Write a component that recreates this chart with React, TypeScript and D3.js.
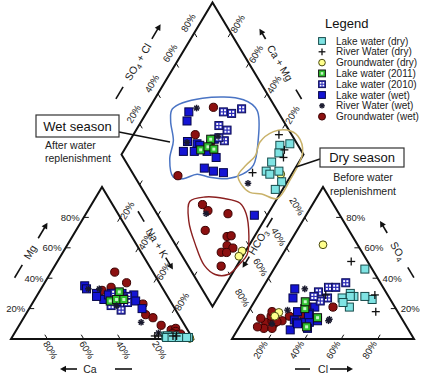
import React from "react";
import * as d3 from "d3";

// Each sample: [Mg %, Na+K %, Cl %, SO4 %]  (Ca = 100 - Mg - Na+K ; HCO3 = 100 - Cl - SO4)
const lakeDry = [
  [2, 89, 50, 46], [2, 84, 64, 26], [1, 86, 59, 28], [2, 85, 50, 30], [1, 85, 47, 27],
  [1, 88, 54, 21], [1, 92, 53, 28], [1, 97, 51, 28], [1, 96, 49, 24],
];
const riverDry = [[2, 80, 64, 29], [2, 88, 40, 51], [2, 78, 37, 29], [2, 90, 70, 18]];
const gwDry = [[1, 94, 19, 62], [0.5, 98, 17, 17.5], [0.5, 98, 16, 15]];
const lake2011 = [[31, 44, 40, 14], [25, 42, 37, 8], [26, 45, 30, 20], [26, 49, 28, 24.5]];
const lake2010 = [
  [30, 42, 36, 34], [26, 47, 40, 34], [19, 51, 44, 37], [22, 44, 32, 31],
  [28, 50, 39, 27], [24, 52, 36, 25], [27, 48, 31, 28],
];
const lakeWet = [
  [35, 23, 18, 33], [33, 25, 20, 27], [30, 32, 28, 12.5], [26, 38, 27, 18], [30, 40, 35, 11],
  [28, 33, 29, 6], [30, 46, 37, 11], [24.5, 46, 35, 21], [29, 53, 34, 17], [28, 50, 30, 11],
  [25, 56, 38, 7], [20, 62, 34, 16], [1, 93, 41, 12], [29, 39, 31, 10],
];
const riverWet = [[33, 26, 23.5, 33], [33, 32, 21, 19], [22, 47, 47, 12], [4, 79, 47, 13], [11, 66, 17, 10]];
const gwWet = [
  [44, 35, 45, 21], [32, 34, 31, 16], [37, 45, 32, 21], [34, 38, 13, 11], [23, 61, 16, 12],
  [16, 66, 14, 15], [9, 78, 24, 15], [14, 71, 14, 7], [6, 85, 13, 18], [7, 87, 21.5, 12],
  [5, 88, 18, 10], [2.6, 92, 19, 11.4], [3.5, 87, 9, 13.6], [3, 90, 18.5, 7], [3.3, 91.5, 10, 8],
];

// group outlines in the diamond: [SO4+Cl %, Na+K %]
const wetOutline = [[43, 13], [63, 26], [85, 49], [89, 60], [79, 71], [69, 76], [60, 73], [50, 66], [41, 56], [35, 48], [26, 42], [21, 36], [25, 28], [33, 24], [38, 16]];
const dryOutline = [[80, 72], [91, 76], [99, 83], [103, 91], [100, 99], [84, 101], [71, 100], [64, 90], [58, 83], [56, 76], [57, 71], [65, 72], [73, 74]];
const gwOutline = [[22, 53], [32, 60], [42, 71], [49, 81], [49, 88], [43, 97], [36, 102], [29, 101], [19, 98], [12, 91], [9, 82], [11, 70], [15, 59]];

const tickValues = [20, 40, 60, 80];
const tickLabels = ["20%", "40%", "60%", "80%"];
const legendLabels = [
  "Lake water (dry)", "River Water (dry)", "Groundwater (dry)", "Lake water (2011)",
  "Lake water (2010)", "Lake water (wet)", "River Water (wet)", "Groundwater (wet)",
];
const legendKinds = ["lakeDry", "riverDry", "gwDry", "lake2011", "lake2010", "lakeWet", "riverWet", "gwWet"];

const FONT = "Liberation Sans, Arial, sans-serif";
const S = 182, TH = 152, BASE = 339, X0L = 11, GAP = 39;
const X0R = X0L + S + GAP;
const sx = d3.scaleLinear().domain([0, 100]).range([0, S]);
const sy = d3.scaleLinear().domain([0, 100]).range([0, TH]);
const Bx = X0L + S + GAP / 2;
const By = BASE - (GAP / 2) * TH / (S / 2);
const Lx = Bx - S / 2, Ly = By - TH;
const ANG = (Math.atan2(TH, S / 2) * 180) / Math.PI;
const NRM = Math.hypot(S / 2, TH);
const UR = [S / 2 / NRM, -TH / NRM]; // up-right unit
const UL = [-S / 2 / NRM, -TH / NRM];
const DR = [S / 2 / NRM, TH / NRM];
const DL = [-S / 2 / NRM, TH / NRM];

const cation = (mg: number, na: number) => [X0L + sx(na) + sx(mg) / 2, BASE - sy(mg)];
const anion = (cl: number, so4: number) => [X0R + sx(cl) + sx(so4) / 2, BASE - sy(so4)];
const diamond = (scl: number, na: number) => [Lx + sx(scl) / 2 + sx(na) / 2, Ly - sy(scl) + sy(na)];

function Marker({ kind, x, y, k = 1 }: { kind: string; x: number; y: number; k?: number }) {
  const h = 4 * k;
  switch (kind) {
    case "lakeDry":
      return <rect x={x - h} y={y - h} width={2 * h} height={2 * h} fill="#7fe3e3" stroke="#164a4a" strokeWidth={1} />;
    case "riverDry":
      return (
        <g stroke="#111" strokeWidth={1.3}>
          <line x1={x - h} x2={x + h} y1={y} y2={y} />
          <line x1={x} x2={x} y1={y - h} y2={y + h} />
        </g>
      );
    case "gwDry":
      return <circle cx={x} cy={y} r={3.9 * k} fill="#ffff8c" stroke="#4a4a10" strokeWidth={1} />;
    case "lake2011":
      return (
        <g>
          <rect x={x - h} y={y - h} width={2 * h} height={2 * h} fill="#2fbf2f" stroke="#111" strokeWidth={1} />
          <rect x={x - 1.5 * k} y={y - 1.5 * k} width={3 * k} height={3 * k} fill="#c8f5c8" />
        </g>
      );
    case "lake2010":
      return (
        <g>
          <rect x={x - h} y={y - h} width={2 * h} height={2 * h} fill="#2b2bb8" stroke="#10105a" strokeWidth={1} />
          {[[-2.6, -2.6], [0.6, -2.6], [-2.6, 0.6], [0.6, 0.6]].map(([a, b], i) => (
            <rect key={i} x={x + a * k} y={y + b * k} width={2 * k} height={2 * k} fill="#fff" />
          ))}
        </g>
      );
    case "lakeWet":
      return <rect x={x - h} y={y - h} width={2 * h} height={2 * h} fill="#1414d4" stroke="#06064a" strokeWidth={1} />;
    case "riverWet":
      return (
        <g stroke="#1a1a2e" strokeWidth={1.5}>
          {[0, 45, 90, 135].map((a) => {
            const r = (a * Math.PI) / 180;
            const d = 3.3 * k;
            return <line key={a} x1={x - d * Math.cos(r)} y1={y - d * Math.sin(r)} x2={x + d * Math.cos(r)} y2={y + d * Math.sin(r)} />;
          })}
        </g>
      );
    case "gwWet":
      return <circle cx={x} cy={y} r={4.1 * k} fill="#8c1010" stroke="#3a0000" strokeWidth={1} />;
  }
  return null;
}

function Title({ x, y, angle, children, arrow, line }: any) {
  const [a0, a1] = arrow;
  const sg = a1 > a0 ? 1 : -1;
  return (
    <g transform={`translate(${x},${y}) rotate(${angle})`}>
      <text x={0} y={0} dy="0.35em" textAnchor="middle" fontSize={10.5} fill="#222" fontFamily={FONT}>{children}</text>
      <line x1={line[0]} x2={line[1]} y1={0} y2={0} stroke="#111" strokeWidth={1.6} />
      <line x1={a0} x2={a1 - sg * 4} y1={0} y2={0} stroke="#111" strokeWidth={1.6} />
      <path d={`M${a1},0L${a1 - sg * 6},-3.2L${a1 - sg * 6},3.2Z`} fill="#111" />
    </g>
  );
}

const sub = (base: string, s: string, rest = "") => (
  <>
    <tspan>{base}</tspan>
    <tspan fontSize={7.5} dy={2.5}>{s}</tspan>
    <tspan dy={-2.5}>{rest}</tspan>
  </>
);

export default function App() {
  const series: [string, number[][]][] = [
    ["gwWet", gwWet], ["lakeWet", lakeWet], ["lake2010", lake2010], ["lake2011", lake2011],
    ["riverWet", riverWet], ["gwDry", gwDry], ["lakeDry", lakeDry], ["riverDry", riverDry],
  ];
  const outline = d3.line().curve(d3.curveCatmullRomClosed.alpha(0.5));
  const toD = (pts: number[][]) => outline(pts.map(([s, n]) => diamond(s, n) as [number, number])) || "";

  const tri = (pts: number[][]) => pts.map((p) => p.join(",")).join(" ");
  const TL = 5;
  const ticks: { p: number[]; d: number[] }[] = [];
  tickValues.forEach((t) => {
    ticks.push({ p: cation(0, 100 - t), d: UL });
    ticks.push({ p: cation(t, 0), d: [1, 0] });
    ticks.push({ p: cation(100 - t, t), d: DL });
    ticks.push({ p: anion(t, 0), d: UR });
    ticks.push({ p: anion(100 - t, t), d: [-1, 0] });
    ticks.push({ p: anion(0, 100 - t), d: DR });
    ticks.push({ p: diamond(t, 0), d: DR });
    ticks.push({ p: diamond(100, 100 - t), d: DL });
    ticks.push({ p: diamond(0, t), d: UR });
    ticks.push({ p: diamond(t, 100), d: UL });
  });
  const lab = { fontSize: 9.5, fill: "#222", fontFamily: FONT } as any;

  return (
    <svg width={421} height={383} style={{ position: "absolute", left: 0, top: 0, background: "#fff" }}>
      {/* frames */}
      <g fill="none" stroke="#111" strokeWidth={2} strokeLinejoin="miter">
        <polygon points={tri([cation(0, 0), cation(0, 100), cation(100, 0)])} />
        <polygon points={tri([anion(0, 0), anion(100, 0), anion(0, 100)])} />
        <polygon points={tri([diamond(0, 0), diamond(100, 0), diamond(100, 100), diamond(0, 100)])} />
      </g>
      <g stroke="#111" strokeWidth={1}>
        {ticks.map((t, i) => (
          <line key={i} x1={t.p[0]} y1={t.p[1]} x2={t.p[0] + t.d[0] * TL} y2={t.p[1] + t.d[1] * TL} />
        ))}
      </g>
      {/* tick labels */}
      {tickValues.map((t, i) => {
        const ca = cation(0, 100 - t);
        const mg = cation(t, 0);
        const na = cation(100 - t, t);
        const cl = anion(t, 0);
        const so = anion(100 - t, t);
        const hc = anion(0, 100 - t);
        const dl = diamond(t, 0);
        const dr = diamond(100, 100 - t);
        return (
          <g key={t} {...lab}>
            <text transform={`translate(${ca[0] + 3},${BASE + 11}) rotate(${ANG})`} textAnchor="middle" dy="0.35em">{tickLabels[i]}</text>
            <text x={mg[0] - 4} y={mg[1] + 3.5} textAnchor="end">{tickLabels[i]}</text>
            <text transform={`translate(${na[0] + 7},${na[1] - 7}) rotate(${-ANG})`} textAnchor="middle" dy="0.35em">{tickLabels[i]}</text>
            <text transform={`translate(${cl[0] - 8},${BASE + 11}) rotate(${-ANG})`} textAnchor="middle" dy="0.35em">{tickLabels[i]}</text>
            <text x={so[0] + 5} y={so[1] + 3.5} textAnchor="start">{tickLabels[i]}</text>
            <text transform={`translate(${hc[0] - 8},${hc[1] - 11}) rotate(${ANG})`} textAnchor="middle" dy="0.35em">{tickLabels[i]}</text>
            <text transform={`translate(${dl[0] - 6},${dl[1] - 10}) rotate(${-ANG})`} textAnchor="middle" dy="0.35em">{tickLabels[i]}</text>
            <text transform={`translate(${dr[0] + 7},${dr[1] - 9}) rotate(${-ANG})`} textAnchor="middle" dy="0.35em">{tickLabels[i]}</text>
          </g>
        );
      })}
      {/* axis titles */}
      <Title x={90} y={369} angle={0} arrow={[-13, -30]} line={[25, 42]}>Ca</Title>
      <Title x={323} y={369} angle={0} arrow={[7, 30]} line={[-28, -13]}>Cl</Title>
      <Title x={30} y={252} angle={-ANG} arrow={[16, 34]} line={[-30, -15]}>Mg</Title>
      <Title x={157} y={243} angle={ANG} arrow={[17, 31]} line={[-37, -25]}>Na + K</Title>
      <Title x={138} y={62} angle={-ANG} arrow={[27, 44]} line={[-43, -29]}>{sub("SO", "4", " + Cl")}</Title>
      <Title x={280} y={63} angle={ANG} arrow={[-28, -40]} line={[31, 42]}>Ca + Mg</Title>
      <Title x={258} y={242} angle={-ANG} arrow={[-17, -30]} line={[17, 28]}>{sub("HCO", "3")}</Title>
      <Title x={398} y={251} angle={ANG} arrow={[-21, -35]} line={[19, 31]}>{sub("SO", "4")}</Title>

      {/* group outlines */}
      <path d={toD(wetOutline)} fill="none" stroke="#4a74c4" strokeWidth={1.5} />
      <path d={toD(dryOutline)} fill="none" stroke="#c9b26a" strokeWidth={1.5} />
      <path d={toD(gwOutline)} fill="none" stroke="#8b2020" strokeWidth={1.4} />

      {/* points */}
      {series.map(([kind, rows]) => (
        <g key={kind}>
          {rows.map((r, i) => {
            const [mg, na, cl, so] = r;
            const a = cation(mg, na), b = anion(cl, so), c = diamond(cl + so, na);
            return (
              <g key={i}>
                <Marker kind={kind} x={a[0]} y={a[1]} />
                <Marker kind={kind} x={b[0]} y={b[1]} />
                <Marker kind={kind} x={c[0]} y={c[1]} />
              </g>
            );
          })}
        </g>
      ))}

      {/* callouts */}
      <line x1={119} y1={132} x2={170} y2={142} stroke="#111" strokeWidth={1.5} />
      <rect x={36} y={115} width={83} height={22} fill="#fff" stroke="#333" strokeWidth={1.2} />
      <text x={77.5} y={130.5} textAnchor="middle" fontSize={13} fill="#111" fontFamily={FONT}>Wet season</text>
      <text x={45} y={149} fontSize={10.5} fill="#222" fontFamily={FONT}>After water</text>
      <text x={45} y={162} fontSize={10.5} fill="#222" fontFamily={FONT}>replenishment</text>

      <line x1={320} y1={159} x2={296} y2={167} stroke="#111" strokeWidth={1.5} />
      <rect x={320} y={148} width={84} height={19} fill="#fff" stroke="#333" strokeWidth={1.2} />
      <text x={362} y={162} textAnchor="middle" fontSize={13} fill="#111" fontFamily={FONT}>Dry season</text>
      <text x={363} y={180.5} textAnchor="middle" fontSize={10.5} fill="#222" fontFamily={FONT}>Before water</text>
      <text x={363} y={194.5} textAnchor="middle" fontSize={10.5} fill="#222" fontFamily={FONT}>replenishment</text>

      {/* legend */}
      <text x={325} y={28} fontSize={13} fill="#111" fontFamily={FONT}>Legend</text>
      {legendLabels.map((l, i) => {
        const y = 41 + i * 10.8;
        return (
          <g key={l}>
            <Marker kind={legendKinds[i]} x={322} y={y} k={0.85} />
            <text x={336} y={y + 3.5} fontSize={10} fill="#222" fontFamily={FONT}>{l}</text>
          </g>
        );
      })}
    </svg>
  );
}
